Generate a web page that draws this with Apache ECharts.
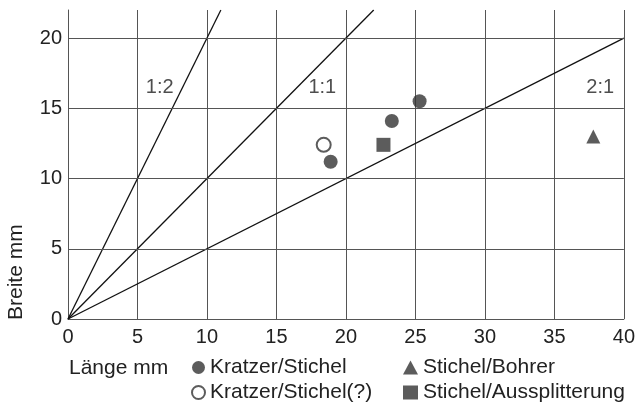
<!DOCTYPE html>
<html><head><meta charset="utf-8">
<script src="https://cdn.jsdelivr.net/npm/echarts@6/dist/echarts.min.js"></script>
<style>html,body{margin:0;padding:0;background:#fff}#c{width:638px;height:408px}</style>
</head><body><div id="c"></div>
<script>
const xTicks = [0,5,10,15,20,25,30,35,40];
const yGridValues = [5,10,15,20];
const kratzerStichel = [[18.9,11.2],[23.3,14.1],[25.3,15.5]];
const kratzerStichelQ = [[18.4,12.4]];
const stichelBohrer = [[37.8,13.0]];
const stichelAussplitterung = [[22.7,12.4]];
const line12 = [[0,0],[11,22]];
const line11 = [[0,0],[22,22]];
const line21 = [[0,0],[40,20]];
const ratioLabels = [[6.6,16.5,'1:2'],[18.3,16.5,'1:1'],[38.3,16.5,'2:1']];

const font = 'Liberation Sans, Arial, Helvetica, sans-serif';
const ink = '#222';
const markColor = '#333';
const gridColor = '#555';
const chart = echarts.init(document.getElementById('c'), null, {renderer:'canvas'});
const refLine = (name, data) => ({
  type:'line', name, data, symbol:'none', silent:true, z:3,
  lineStyle:{color:'#111', width:1.3}, clip:true
});
chart.setOption({
  animation:false,
  textStyle:{fontFamily:font},
  grid:{left:68, right:14, top:10, bottom:89},
  xAxis:{type:'value', min:0, max:40, interval:5,
    axisLine:{show:true, lineStyle:{color:gridColor, width:1}},
    axisTick:{show:false},
    axisLabel:{color:ink, fontSize:20, margin:8, fontFamily:font},
    splitLine:{show:true, lineStyle:{color:gridColor, width:1}}
  },
  yAxis:{type:'value', min:0, max:22, interval:5,
    axisLine:{show:true, lineStyle:{color:gridColor, width:1}},
    axisTick:{show:false},
    axisLabel:{color:ink, fontSize:20, margin:6, fontFamily:font, showMaxLabel:false},
    splitLine:{show:false}
  },
  legend:[
    {left:191, top:357, height:80, width:200, padding:0, orient:'vertical', itemGap:4, itemWidth:13, itemHeight:13,
     textStyle:{color:ink, fontSize:21, fontFamily:font},
     data:['Kratzer/Stichel','Kratzer/Stichel(?)']},
    {left:403, top:357, height:80, width:230, padding:0, orient:'vertical', itemGap:4, itemWidth:15, itemHeight:14,
     textStyle:{color:ink, fontSize:21, fontFamily:font},
     data:['Stichel/Bohrer','Stichel/Aussplitterung']}
  ],
  graphic:[
    {type:'text', left:69, top:358, style:{text:'Länge mm', fill:ink, font:'21px '+font}},
    {type:'text', x:6, y:320, rotation:Math.PI/2, style:{text:'Breite mm', fill:ink, font:'21px '+font, align:'left', verticalAlign:'top'}}
  ],
  series:[
    {type:'line', name:'grid', data:[], silent:true,
     markLine:{silent:true, symbol:'none', label:{show:false},
       lineStyle:{color:gridColor, width:1, type:'solid'},
       data: yGridValues.map(v=>({yAxis:v}))}},
    refLine('1:2', line12), refLine('1:1', line11), refLine('2:1', line21),
    {type:'scatter', name:'labels', data:ratioLabels, symbolSize:0, silent:true,
     label:{show:true, position:'inside', formatter:p=>p.value[2], color:ink, fontSize:20, fontFamily:font}},
    {type:'scatter', name:'Kratzer/Stichel', data:kratzerStichel, symbol:'circle', symbolSize:14, z:5,
     itemStyle:{color:markColor}},
    {type:'scatter', name:'Kratzer/Stichel(?)', data:kratzerStichelQ, symbol:'emptyCircle', symbolSize:14, z:5,
     itemStyle:{color:markColor, borderColor:markColor, borderWidth:1.8}},
    {type:'scatter', name:'Stichel/Bohrer', data:stichelBohrer, symbol:'triangle', symbolSize:14, z:5,
     itemStyle:{color:markColor}},
    {type:'scatter', name:'Stichel/Aussplitterung', data:stichelAussplitterung, symbol:'rect', symbolSize:14, z:5,
     itemStyle:{color:markColor}}
  ]
});
</script></body></html>
